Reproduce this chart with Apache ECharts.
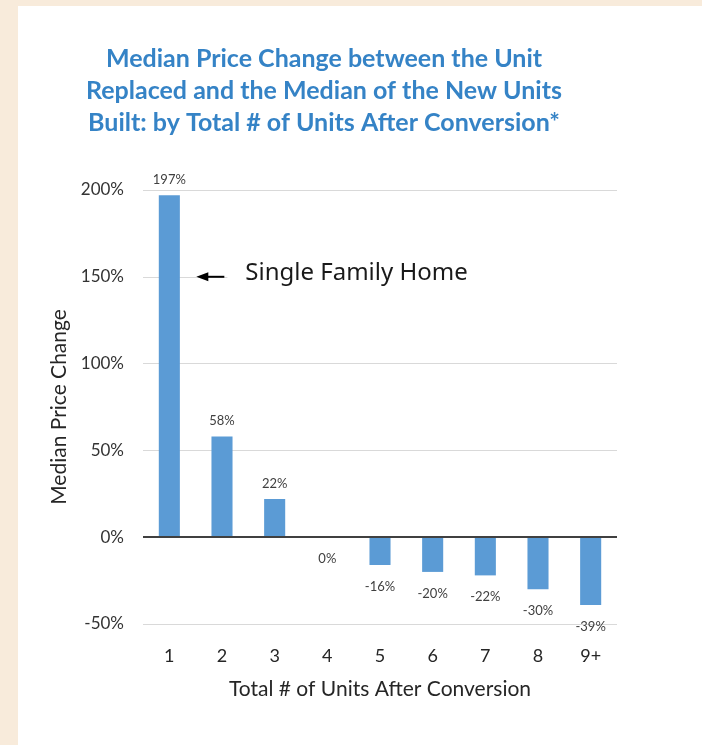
<!DOCTYPE html>
<html>
<head>
<meta charset="utf-8">
<script src="https://cdn.jsdelivr.net/npm/echarts@6/dist/echarts.min.js"></script>
<style>
  html, body { margin: 0; padding: 0; background: #ffffff; }
  #chart { width: 702px; height: 745px; }
</style>
</head>
<body>
<div id="chart"></div>
<script>
// Units after conversion and median price change (%)
const categories = ['1', '2', '3', '4', '5', '6', '7', '8', '9+'];
const priceChange = [197, 58, 22, 0, -16, -20, -22, -30, -39];
const yTicks = { min: -50, max: 200, interval: 50 };

const titleText = 'Median Price Change between the Unit\nReplaced and the Median of the New Units\nBuilt: by Total # of Units After Conversion*';

const chart = echarts.init(document.getElementById('chart'), null, { renderer: 'canvas' });

// positive values labelled above the bar end, zero and negatives below
const barData = priceChange.map(v => ({
  value: v,
  label: v > 0
    ? { position: 'top', distance: 9 }
    : { position: 'bottom', distance: 15 }
}));

const frame = [
  { type: 'rect', shape: { x: 0, y: 0, width: 18, height: 745 }, style: { fill: '#f8ebdb' }, silent: true },
  { type: 'rect', shape: { x: 0, y: 0, width: 702, height: 6 }, style: { fill: '#f8ebdb' }, silent: true }
];

chart.setOption({
  backgroundColor: '#ffffff',
  animation: false,
  title: {
    text: titleText,
    left: 319,
    top: 38,
    textAlign: 'center',
    textStyle: {
      fontFamily: 'Lato',
      fontWeight: 'bold',
      fontSize: 25,
      lineHeight: 32,
      color: '#3583c6'
    }
  },
  grid: { left: 143, right: 85, top: 190, bottom: 121 },
  xAxis: {
    type: 'category',
    data: categories,
    name: 'Total # of Units After Conversion',
    nameLocation: 'middle',
    nameGap: 55,
    nameTextStyle: { fontFamily: 'Lato', fontSize: 21, color: '#262626' },
    axisLine: { show: false, onZero: false },
    axisTick: { show: false },
    axisLabel: { margin: 23, fontFamily: 'Lato', fontSize: 18, color: '#262626' }
  },
  yAxis: {
    type: 'value',
    min: yTicks.min,
    max: yTicks.max,
    interval: yTicks.interval,
    name: 'Median Price Change',
    nameLocation: 'middle',
    nameGap: 70,
    nameTextStyle: { fontFamily: 'Lato', fontSize: 21, color: '#262626' },
    axisLine: { show: false },
    axisTick: { show: false },
    axisLabel: {
      margin: 19,
      formatter: '{value}%',
      fontFamily: 'Lato',
      fontSize: 17,
      color: '#333333'
    },
    splitLine: { lineStyle: { color: '#d9d9d9', width: 1 } }
  },
  series: [{
    type: 'bar',
    data: barData,
    barWidth: '40%',
    itemStyle: { color: '#5b9bd5' },
    label: {
      show: true,
      formatter: '{c}%',
      fontFamily: 'Lato',
      fontSize: 13,
      color: '#404040'
    },
    markLine: {
      silent: true,
      symbol: 'none',
      label: { show: false },
      lineStyle: { color: '#404040', width: 2, type: 'solid' },
      data: [{ yAxis: 0 }]
    },
    z: 3
  }],
  graphic: frame
});

// Annotation pointing at the single-family bar on the 150% level
const p = chart.convertToPixel({ xAxisIndex: 0, yAxisIndex: 0 }, ['1', 150]);
chart.setOption({
  graphic: frame.concat([
    {
      type: 'rect',
      shape: { x: p[0] + 58, y: p[1] - 22, width: 390, height: 44 },
      style: { fill: '#ffffff' },
      silent: true,
      z: 10
    },
    {
      type: 'line',
      shape: { x1: p[0] + 55, y1: p[1], x2: p[0] + 36, y2: p[1] },
      style: { stroke: '#000000', lineWidth: 2 },
      silent: true,
      z: 11
    },
    {
      type: 'polygon',
      shape: { points: [[p[0] + 27, p[1]], [p[0] + 39, p[1] - 4.5], [p[0] + 39, p[1] + 4.5]] },
      style: { fill: '#000000' },
      silent: true,
      z: 11
    },
    {
      type: 'text',
      x: p[0] + 76,
      y: p[1] - 4,
      style: {
        text: 'Single Family Home',
        fontFamily: 'Noto Sans',
        fontSize: 24,
        fill: '#1a1a1a',
        verticalAlign: 'middle'
      },
      silent: true,
      z: 11
    }
  ])
});
</script>
</body>
</html>
